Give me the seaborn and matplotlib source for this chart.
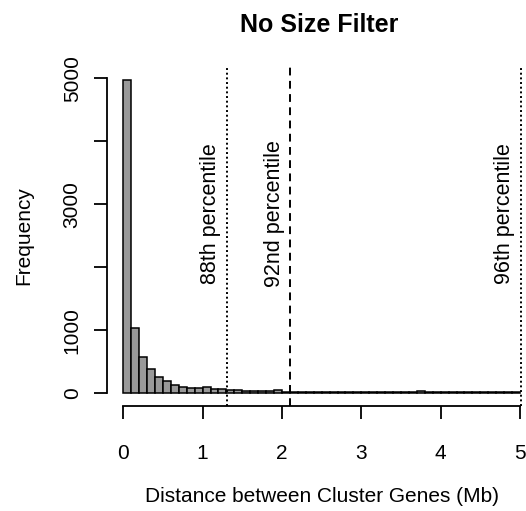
import numpy as np
import pandas as pd
import matplotlib
matplotlib.use("Agg")
import matplotlib.pyplot as plt
import seaborn as sns

# ---- data ----
bin_width = 0.1
bin_edges = [round(i * bin_width, 2) for i in range(51)]
counts = [4980, 1030, 580, 380, 260, 190, 130, 95, 85, 90,
          100, 75, 65, 50, 50, 35, 40, 40, 30, 55,
          25, 22, 20, 18, 16, 16, 15, 16, 15, 18,
          18, 16, 15, 18, 16, 22, 18, 38, 16, 15,
          16, 18, 20, 18, 16, 22, 20, 24, 18, 16]
percentile_names = ["88th percentile", "92nd percentile", "96th percentile"]
percentile_values = [1.303, 2.105, 5.01]
percentile_styles = ["dotted", "dashed", "dotted"]
y_ticks = [0, 1000, 2000, 3000, 4000, 5000]
y_ticklabels = ["0", "1000", "", "3000", "", "5000"]
x_ticks = [0, 1, 2, 3, 4, 5]

df = pd.DataFrame({"mid": [e + bin_width / 2 for e in bin_edges[:-1]], "count": counts})

sns.set_style("white")
plt.rcParams["font.family"] = ["Liberation Sans", "DejaVu Sans"]
plt.rcParams["text.color"] = "black"
plt.rcParams["axes.labelcolor"] = "black"
plt.rcParams["xtick.color"] = "black"
plt.rcParams["ytick.color"] = "black"

fig = plt.figure(figsize=(5.26, 5.11), dpi=100)
ax = fig.add_axes([0.2042, 0.2055, 0.8146, 0.6659])

sns.histplot(data=df, x="mid", weights="count", bins=bin_edges, ax=ax,
             color="#999999", alpha=1.0, edgecolor="black", linewidth=1.1)

ax.set_xlim(-0.2, 5.2)
ax.set_ylim(-200, 5200)

dash_map = {"dotted": (0, (1, 1.4)), "dashed": (0, (4, 2.8))}
for name, val, st in zip(percentile_names, percentile_values, percentile_styles):
    ax.axvline(val, color="black", linestyle=dash_map[st], linewidth=1.4, clip_on=False)
    ax.text(val - 0.07, 2850, name, rotation=90, ha="right", va="center", fontsize=15.5)

for s in ["top", "right"]:
    ax.spines[s].set_visible(False)
ax.spines["left"].set_bounds(0, 5000)
ax.spines["bottom"].set_bounds(0, 5)
for s in ["left", "bottom"]:
    ax.spines[s].set_linewidth(1.3)
    ax.spines[s].set_color("black")

ax.set_xticks(x_ticks)
ax.set_xticklabels([str(v) for v in x_ticks])
ax.set_yticks(y_ticks)
ax.set_yticklabels(y_ticklabels, rotation=90, va="center")
ax.tick_params(axis="both", direction="out", length=9.5, width=1.3, labelsize=15,
               color="black", left=True, bottom=True)
ax.tick_params(axis="x", pad=18)
ax.tick_params(axis="y", pad=9)

ax.set_xlabel("Distance between Cluster Genes (Mb)", fontsize=15, labelpad=17)
ax.set_ylabel("Frequency", fontsize=15, labelpad=21)
ax.set_title("No Size Filter", fontsize=18, fontweight="bold", x=0.494, pad=24)
ax.grid(False)

fig.savefig("out.png", dpi=100)
